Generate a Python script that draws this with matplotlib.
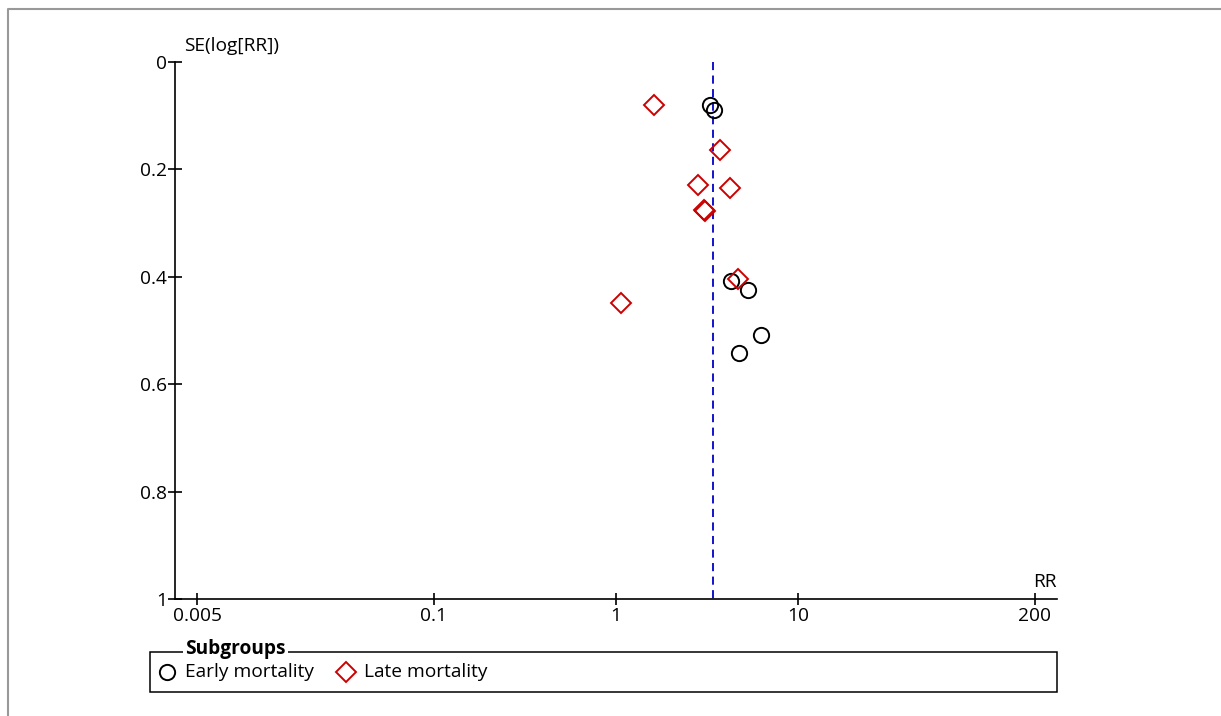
import numpy as np
import matplotlib
matplotlib.use("Agg")
import matplotlib.pyplot as plt
from matplotlib.patches import Rectangle
from matplotlib.lines import Line2D

plt.rcParams['font.family'] = ['Open Sans', 'DejaVu Sans']

# Early mortality studies (RR, SE of log RR)
early_rr = [3.28, 3.45, 4.28, 5.31, 6.26, 4.74]
early_se = [0.080, 0.089, 0.408, 0.425, 0.508, 0.542]

# Late mortality studies
late_rr = [1.62, 3.73, 2.81, 4.21, 3.05, 3.10, 4.66, 1.065]
late_se = [0.080, 0.164, 0.229, 0.235, 0.275, 0.278, 0.405, 0.449]

pooled_rr = 3.41
x_ticks = [0.005, 0.1, 1, 10, 200]
x_tick_labels = ['0.005', '0.1', '1', '10', '200']
y_ticks = [0, 0.2, 0.4, 0.6, 0.8, 1]
y_tick_labels = ['0', '0.2', '0.4', '0.6', '0.8', '1']

FS = 13.8
W, H = 1221, 716
fig = plt.figure(figsize=(W / 100, H / 100), dpi=100)

# overlay in pixel coords for frame and legend
ov = fig.add_axes([0, 0, 1, 1])
ov.set_xlim(0, W)
ov.set_ylim(H, 0)
ov.axis('off')
ov.plot([7.5, 7.5, W], [H, 9, 9], color='#999999', lw=1.5)

ax = fig.add_axes([175 / W, 1 - 599 / H, 882 / W, 537 / H])
ax.set_xscale('log')
lim = 2.423
ax.set_xlim(10 ** -lim, 10 ** lim)
ax.set_ylim(1, 0)
ax.patch.set_alpha(0)

ax.plot([pooled_rr, pooled_rr], [0, 1], color='#0000c8', lw=1.3,
        linestyle=(0, (4.5, 3)), zorder=1)

ax.plot(early_rr, early_se, linestyle='none', marker='o', markersize=11,
        markerfacecolor='none', markeredgecolor='black', markeredgewidth=1.4,
        clip_on=False, zorder=3)
ax.plot(late_rr, late_se, linestyle='none', marker='D', markersize=10,
        markerfacecolor='none', markeredgecolor='#cc0000', markeredgewidth=1.4,
        clip_on=False, zorder=3)

for s in ['top', 'right']:
    ax.spines[s].set_visible(False)
for s in ['left', 'bottom']:
    ax.spines[s].set_linewidth(1.2)

ax.set_xticks(x_ticks)
ax.set_xticklabels(x_tick_labels)
ax.xaxis.set_minor_locator(matplotlib.ticker.NullLocator())
ax.set_yticks(y_ticks)
ax.set_yticklabels(y_tick_labels)
ax.tick_params(axis='x', direction='inout', length=8, width=1.2,
               labelsize=FS, pad=2)
ax.tick_params(axis='y', direction='inout', length=9.5, width=1.2,
               labelsize=FS, pad=1)

ov.text(184, 46, 'SE(log[RR])', fontsize=FS, ha='left', va='center')
ov.text(1057, 582, 'RR', fontsize=FS, ha='right', va='center')

# legend box
ov.add_patch(Rectangle((150, 652), 907, 40, fill=False, edgecolor='black', lw=1.1))
ov.text(185, 649, 'Subgroups', fontsize=FS, fontweight='bold', ha='left',
        va='center', bbox=dict(facecolor='white', edgecolor='none', pad=1.5))
ov.add_line(Line2D([167], [672], marker='o', markersize=11, markerfacecolor='none',
                   markeredgecolor='black', markeredgewidth=1.4))
ov.text(185, 672, 'Early mortality', fontsize=FS, ha='left', va='center')
ov.add_line(Line2D([346], [672], marker='D', markersize=10, markerfacecolor='none',
                   markeredgecolor='#cc0000', markeredgewidth=1.4))
ov.text(364, 672, 'Late mortality', fontsize=FS, ha='left', va='center')

fig.savefig('out.png', dpi=100)
